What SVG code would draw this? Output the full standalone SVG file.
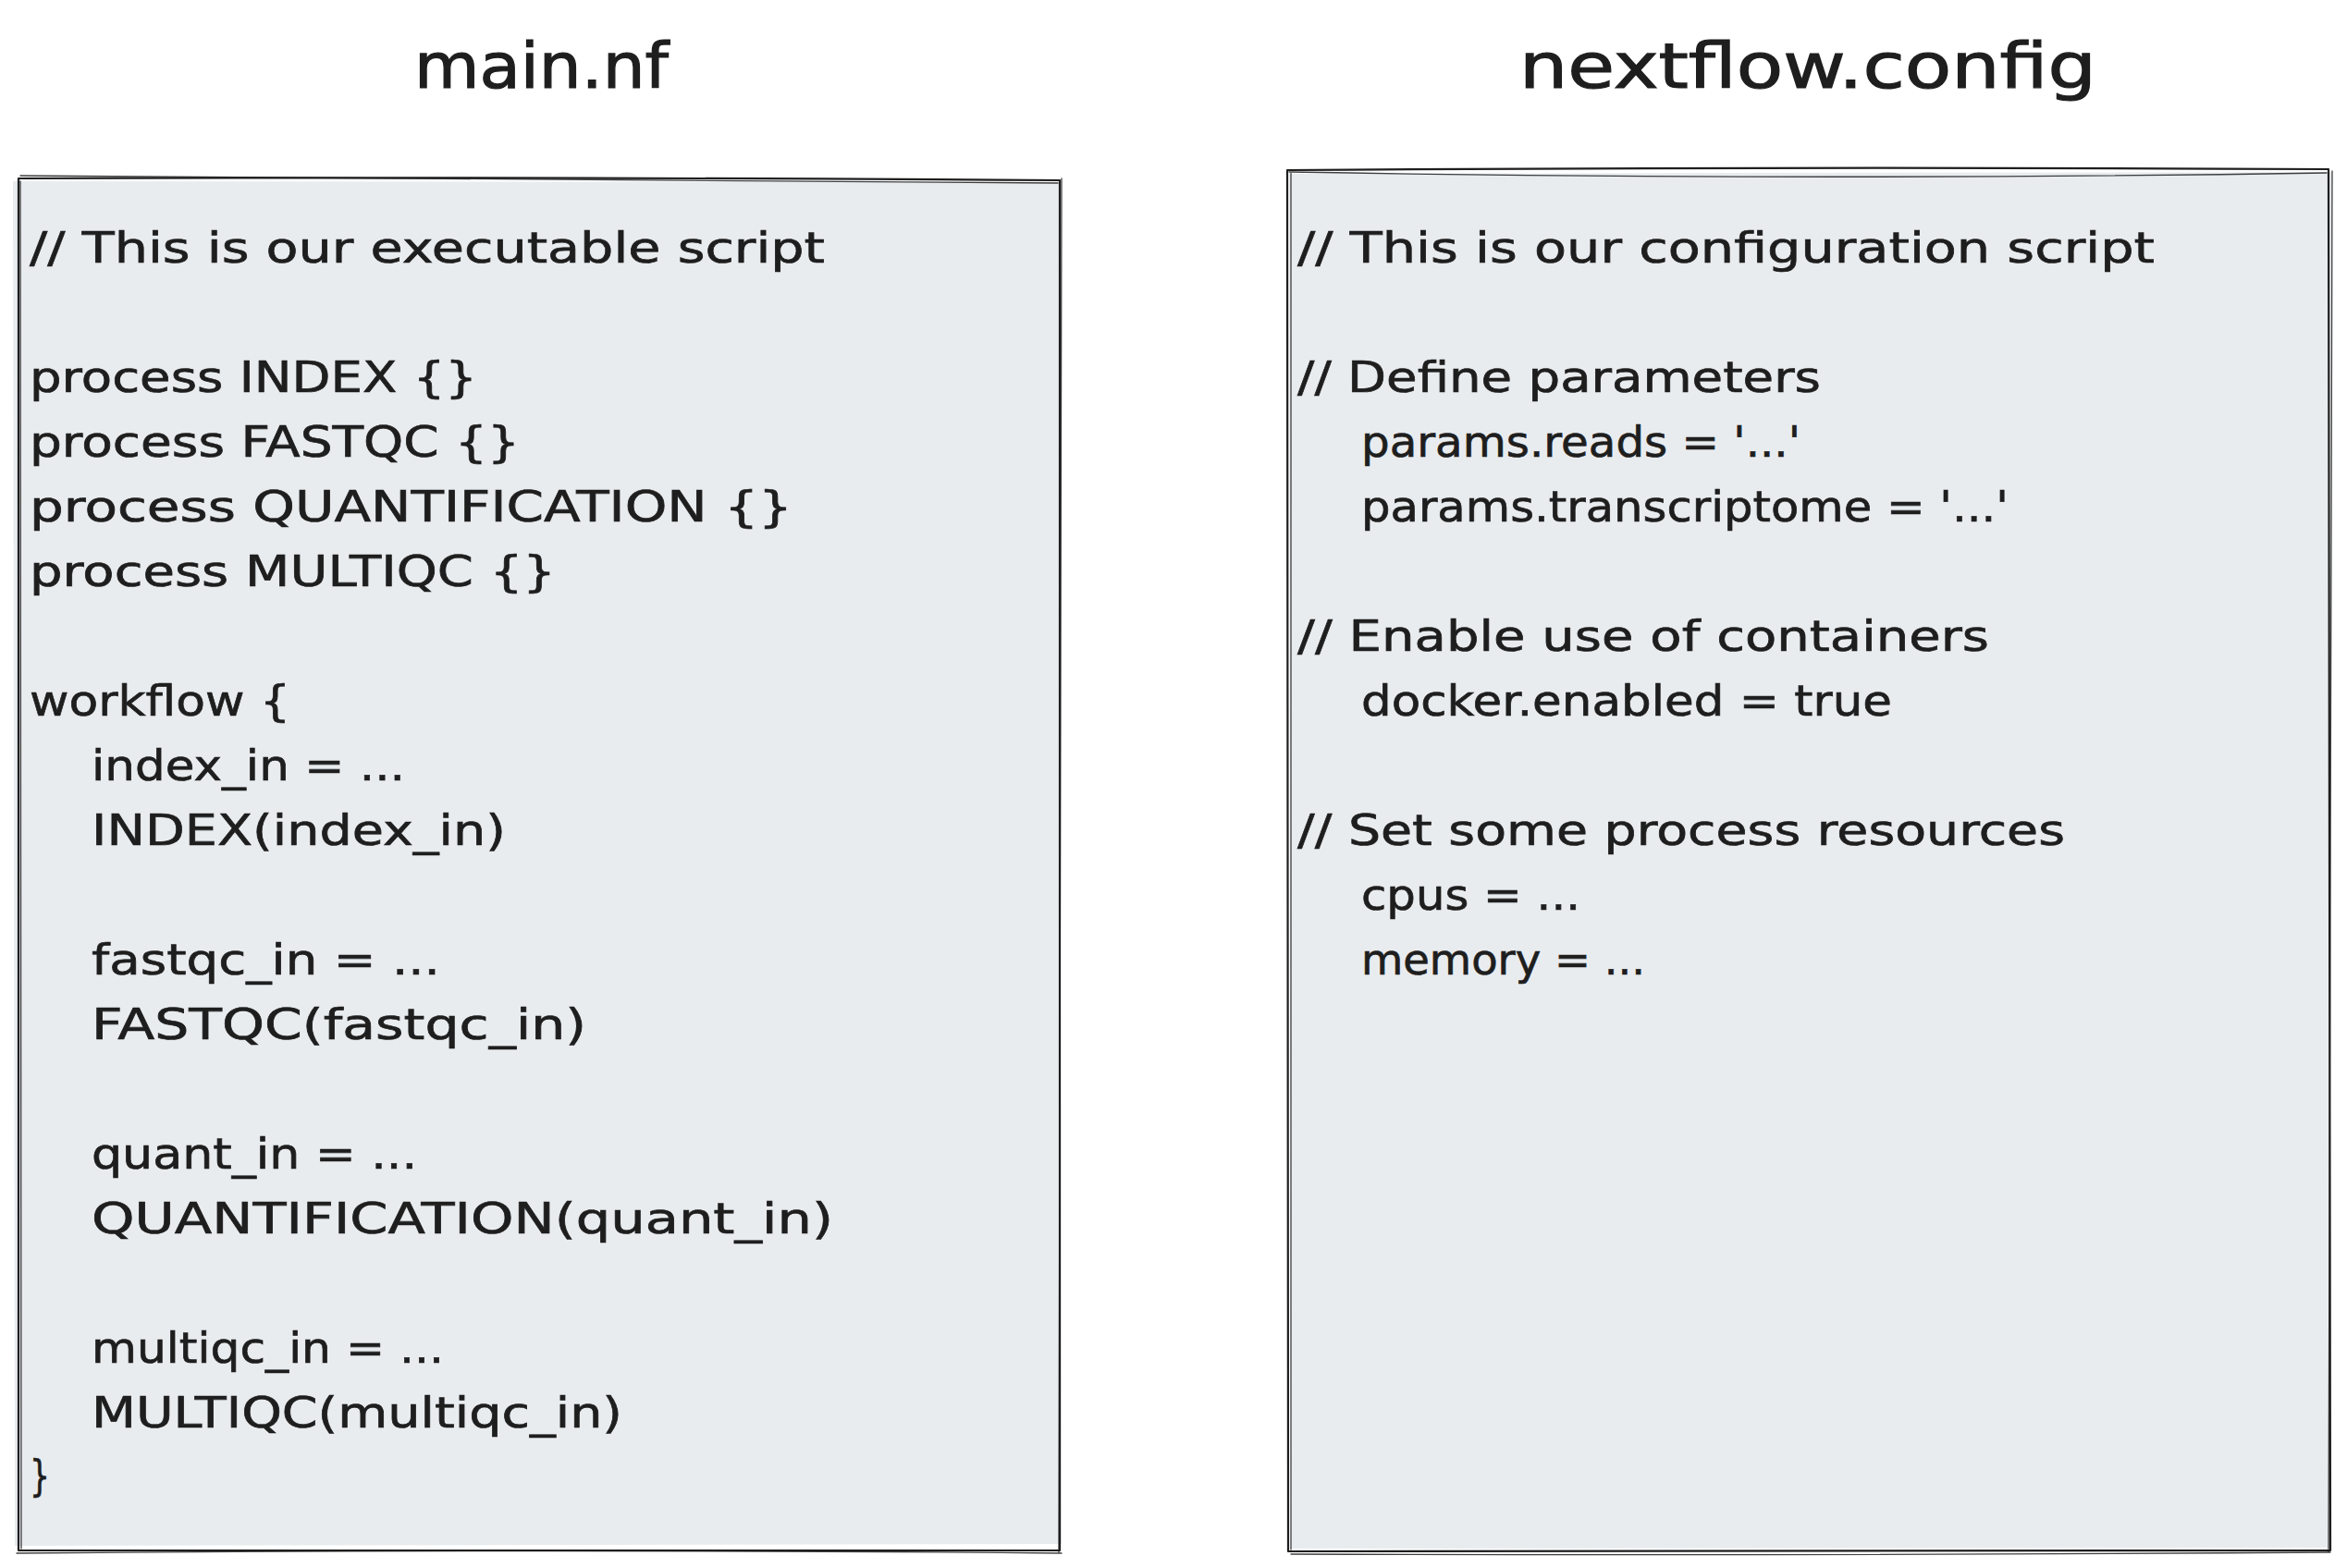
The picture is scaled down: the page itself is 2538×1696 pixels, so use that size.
<svg xmlns="http://www.w3.org/2000/svg" width="2538" height="1696" viewBox="0 0 2538 1696">
<style>
.t{font-family:"DejaVu Sans","Liberation Sans",sans-serif;font-size:47px;fill:#1e1e1e;stroke:#1e1e1e;stroke-width:0.7}
.h{font-family:"DejaVu Sans","Liberation Sans",sans-serif;font-size:68px;fill:#1e1e1e;stroke:#1e1e1e;stroke-width:1.2}
.fill{fill:#e9ecef;stroke:none}
.s1{fill:none;stroke:#1e1e1e;stroke-width:2.2;stroke-linecap:round;stroke-linejoin:round}
.s2{fill:none;stroke:#1e1e1e;stroke-width:1.3;stroke-linecap:round;stroke-linejoin:round;opacity:0.85}
</style>
<rect width="2538" height="1696" fill="#ffffff"/>
<g id="title-main">
<text class="h" x="448" y="95" textLength="275" lengthAdjust="spacingAndGlyphs">main.nf</text>
</g>
<g id="title-config">
<text class="h" x="1643" y="95" textLength="624" lengthAdjust="spacingAndGlyphs">nextflow.config</text>
</g>
<g id="main-box">
<path class="fill" d="M14 196 L1146 197 L1148 1670 L16 1672 Z"/>
<path class="s1" d="M20 193 Q580 191 1146 195 L1146 1677 Q580 1679 20 1677 Z"/>
<path class="s2" d="M22 190 Q590 194 1144 198 M22 196 Q20 930 23 1675 M1148 193 Q1146 930 1145 1679 M18 1680 Q600 1675 1148 1680"/>
<text class="t" x="32" y="284" textLength="860" lengthAdjust="spacingAndGlyphs">// This is our executable script</text>
<text class="t" x="32" y="424" textLength="484" lengthAdjust="spacingAndGlyphs">process INDEX {}</text>
<text class="t" x="32" y="494" textLength="530" lengthAdjust="spacingAndGlyphs">process FASTQC {}</text>
<text class="t" x="32" y="564" textLength="825" lengthAdjust="spacingAndGlyphs">process QUANTIFICATION {}</text>
<text class="t" x="32" y="634" textLength="569" lengthAdjust="spacingAndGlyphs">process MULTIQC {}</text>
<text class="t" x="32" y="774" textLength="282" lengthAdjust="spacingAndGlyphs">workflow {</text>
<text class="t" x="99" y="844" textLength="339" lengthAdjust="spacingAndGlyphs">index_in = ...</text>
<text class="t" x="99" y="914" textLength="448" lengthAdjust="spacingAndGlyphs">INDEX(index_in)</text>
<text class="t" x="99" y="1054" textLength="377" lengthAdjust="spacingAndGlyphs">fastqc_in = ...</text>
<text class="t" x="99" y="1124" textLength="535" lengthAdjust="spacingAndGlyphs">FASTQC(fastqc_in)</text>
<text class="t" x="99" y="1264" textLength="352" lengthAdjust="spacingAndGlyphs">quant_in = ...</text>
<text class="t" x="99" y="1334" textLength="802" lengthAdjust="spacingAndGlyphs">QUANTIFICATION(quant_in)</text>
<text class="t" x="99" y="1474" textLength="381" lengthAdjust="spacingAndGlyphs">multiqc_in = ...</text>
<text class="t" x="99" y="1544" textLength="574" lengthAdjust="spacingAndGlyphs">MULTIQC(multiqc_in)</text>
<text class="t" x="32" y="1612" textLength="22" lengthAdjust="spacingAndGlyphs">}</text>
</g>
<g id="config-box">
<path class="fill" d="M1394 188 L2522 186 L2520 1674 L1396 1675 Z"/>
<path class="s1" d="M1392 184 Q1950 180 2518 183 L2520 1677 Q1950 1680 1393 1678 Z"/>
<path class="s2" d="M1394 186 Q1960 196 2516 187 M1396 187 Q1394 930 1396 1676 M2522 185 Q2520 930 2518 1678 M1396 1681 Q1960 1683 2520 1679"/>
<text class="t" x="1403" y="284" textLength="927" lengthAdjust="spacingAndGlyphs">// This is our configuration script</text>
<text class="t" x="1403" y="424" textLength="566" lengthAdjust="spacingAndGlyphs">// Define parameters</text>
<text class="t" x="1472" y="494" textLength="475" lengthAdjust="spacingAndGlyphs">params.reads = '...'</text>
<text class="t" x="1472" y="564" textLength="700" lengthAdjust="spacingAndGlyphs">params.transcriptome = '...'</text>
<text class="t" x="1403" y="704" textLength="748" lengthAdjust="spacingAndGlyphs">// Enable use of containers</text>
<text class="t" x="1472" y="774" textLength="574" lengthAdjust="spacingAndGlyphs">docker.enabled = true</text>
<text class="t" x="1403" y="914" textLength="830" lengthAdjust="spacingAndGlyphs">// Set some process resources</text>
<text class="t" x="1472" y="984" textLength="237" lengthAdjust="spacingAndGlyphs">cpus = ...</text>
<text class="t" x="1472" y="1054" textLength="307" lengthAdjust="spacingAndGlyphs">memory = ...</text>
</g>
<g id="connectors"></g>
</svg>
